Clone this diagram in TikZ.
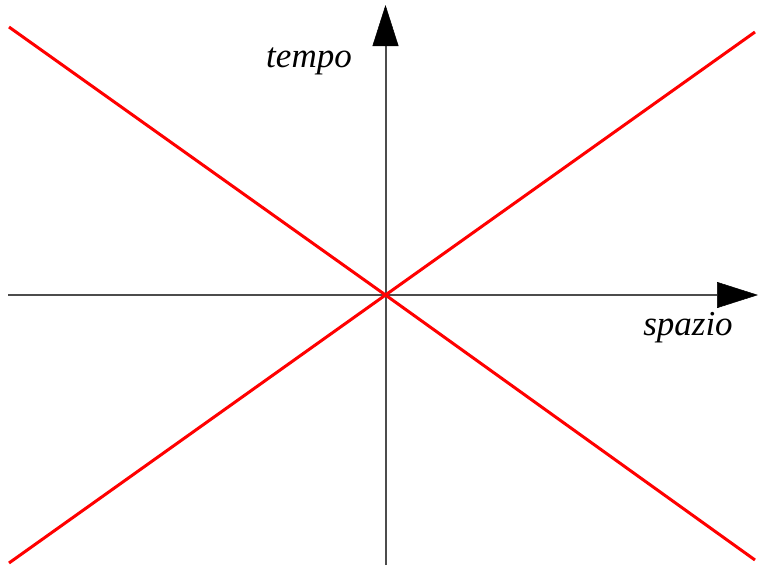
\documentclass[tikz,border=0pt]{standalone}
\usepackage{fontspec}
\setmainfont{Liberation Serif}
\usetikzlibrary{arrows.meta}
\begin{document}
\begin{tikzpicture}[x=1pt,y=-1pt,
  axis/.style={draw=black!70, line width=2pt, -{Triangle[length=41pt,width=26pt,fill=black,color=black,line width=0.5pt]}},
  cone/.style={draw=red, line width=3pt},
  lbl/.style={font=\fontsize{35}{40}\selectfont\itshape, anchor=base, inner sep=0pt}]
\useasboundingbox (0,0) rectangle (760,568);
\coordinate (O) at (385.5,295);
\coordinate (yb) at (385.5,565);
\coordinate (yt) at (385.5,5);
\coordinate (xl) at (8,295);
\coordinate (xr) at (758,295);
\coordinate (tl) at (9,27);
\coordinate (tr) at (755,32);
\coordinate (bl) at (9,563);
\coordinate (br) at (755,560);
\draw[axis] (yb) -- (yt);
\draw[axis] (xl) -- (xr);
\draw[cone] (tl) -- (O) -- (br);
\draw[cone] (bl) -- (O) -- (tr);
\node[lbl] (tempo) at (309,67) {tempo};
\node[lbl] (spazio) at (688,335) {spazio};
\end{tikzpicture}
\end{document}
